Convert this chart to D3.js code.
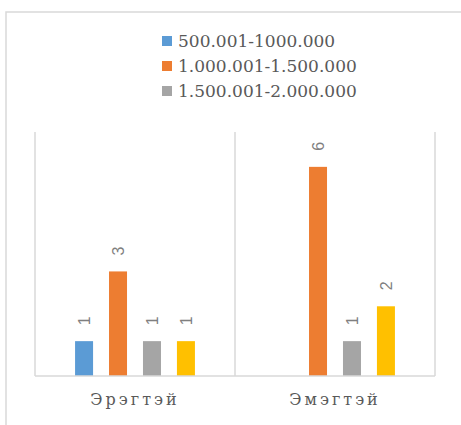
<!DOCTYPE html>
<html>
<head>
<meta charset="utf-8">
<script src="https://cdn.jsdelivr.net/npm/d3@7"></script>
<style>
  body { margin: 0; background: #fff; }
</style>
</head>
<body>
<svg id="chart"></svg>
<script>
const categories = ["Эрэгтэй", "Эмэгтэй"];
const seriesNames = ["500.001-1000.000", "1.000.001-1.500.000", "1.500.001-2.000.000", "2.000.001+"];
const legendNames = ["500.001-1000.000", "1.000.001-1.500.000", "1.500.001-2.000.000"];
const values = {
  "Эрэгтэй": [1, 3, 1, 1],
  "Эмэгтэй": [null, 6, 1, 2]
};
const colors = ["#5b9bd5", "#ed7d31", "#a5a5a5", "#ffc000"];

const width = 461;
const height = 425;
const margin = { top: 132, right: 26, bottom: 49, left: 35 };
const serif = "DejaVu Serif";

const svg = d3.select("#chart").attr("width", width).attr("height", height);

// outer chart border (runs off the right and bottom edge)
svg.append("path")
  .attr("d", `M6,${height + 5}V12H${width + 5}`)
  .attr("fill", "none")
  .attr("stroke", "#d9d9d9")
  .attr("stroke-width", 1.5);

const x = d3.scaleBand()
  .domain(categories)
  .range([margin.left, width - margin.right]);

const x1 = d3.scaleBand()
  .domain(seriesNames)
  .range([0, x.bandwidth()])
  .paddingInner(0.47)
  .paddingOuter(1.18);

const y = d3.scaleLinear()
  .domain([0, 7])
  .range([height - margin.bottom, margin.top]);

// vertical gridlines at category borders
const borders = [...categories.map(c => x(c)), x(categories[categories.length - 1]) + x.bandwidth()];
svg.append("g")
  .selectAll("line")
  .data(borders)
  .join("line")
  .attr("x1", d => d).attr("x2", d => d)
  .attr("y1", y(7)).attr("y2", y(0))
  .attr("stroke", "#d9d9d9")
  .attr("stroke-width", 1.5);

const groups = svg.append("g")
  .selectAll("g")
  .data(categories)
  .join("g")
  .attr("transform", d => `translate(${x(d)},0)`);

const cells = groups.selectAll("g")
  .data(c => values[c].map((v, i) => ({ key: seriesNames[i], value: v, i })).filter(d => d.value != null))
  .join("g");

cells.append("rect")
  .attr("x", d => x1(d.key))
  .attr("y", d => y(d.value))
  .attr("width", x1.bandwidth())
  .attr("height", d => y(0) - y(d.value))
  .attr("fill", d => colors[d.i]);

cells.append("text")
  .attr("transform", d => `translate(${x1(d.key) + x1.bandwidth() / 2},${y(d.value) - 16}) rotate(-90)`)
  .attr("dy", "0.35em")
  .attr("text-anchor", "start")
  .attr("font-family", "Liberation Sans")
  .attr("font-size", 16)
  .attr("fill", "#7f7f7f")
  .text(d => d.value);

// baseline
svg.append("line")
  .attr("x1", margin.left).attr("x2", width - margin.right)
  .attr("y1", y(0)).attr("y2", y(0))
  .attr("stroke", "#d9d9d9")
  .attr("stroke-width", 1.5);

// category labels
const xAxis = g => g
  .attr("transform", `translate(0,${y(0)})`)
  .call(d3.axisBottom(x).tickSize(0).tickPadding(18))
  .call(g => g.select(".domain").remove())
  .call(g => g.selectAll("text")
    .attr("font-family", serif)
    .attr("font-size", 16)
    .attr("letter-spacing", 3)
    .attr("fill", "#595959"));
svg.append("g").call(xAxis).attr("font-family", serif);

// legend
const legend = svg.append("g")
  .attr("font-family", serif)
  .selectAll("g")
  .data(legendNames)
  .join("g")
  .attr("transform", (d, i) => `translate(162,${36 + i * 25})`);

legend.append("rect")
  .attr("width", 10).attr("height", 10)
  .attr("fill", (d, i) => colors[i]);

legend.append("text")
  .attr("x", 16)
  .attr("y", 11)
  .attr("font-family", serif)
  .attr("font-size", 17)
  .attr("fill", "#595959")
  .text(d => d);
</script>
</body>
</html>
